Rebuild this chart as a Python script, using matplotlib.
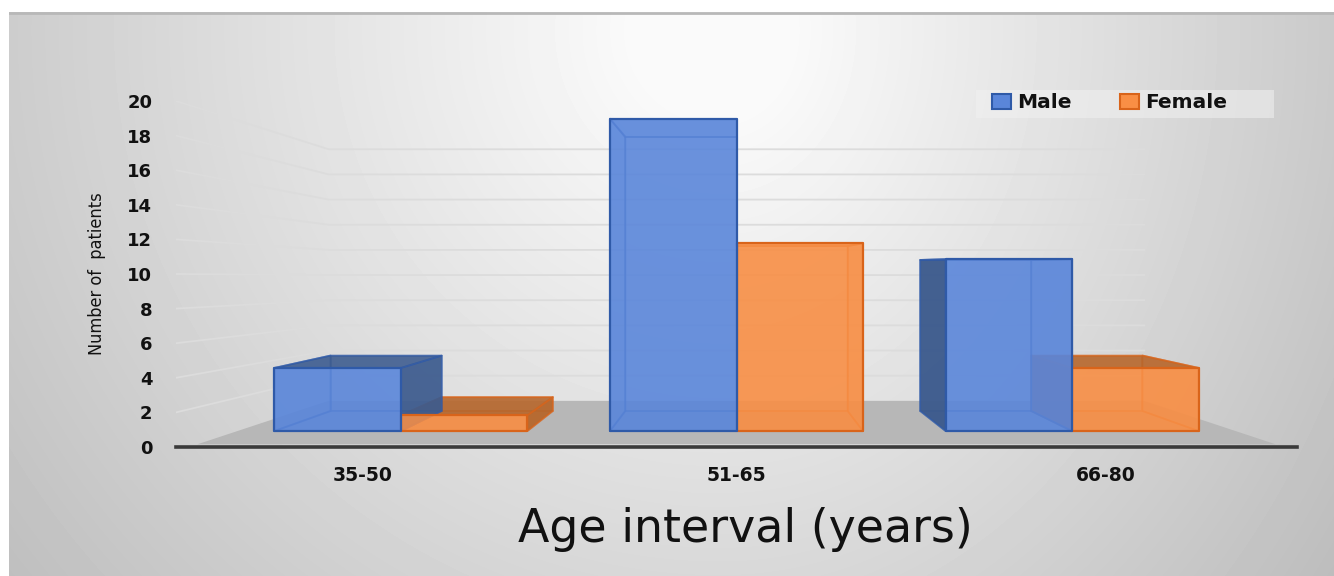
#!/usr/bin/env python
"""Male / female patients per age interval, drawn as a 3-D style clustered bar chart."""
import matplotlib

matplotlib.use("Agg")
import matplotlib.pyplot as plt
import numpy as np
from matplotlib.patches import Patch, Polygon, Rectangle

CATEGORIES = ["35-50", "51-65", "66-80"]
MALE = [4, 19.8, 10.9]
FEMALE = [1, 11.9, 4]
YTICKS = list(range(0, 21, 2))

W, H = 1334, 576
# perspective: s=1 is the axis plane, smaller s goes into the picture
Y_VANISH = 10.46
X_VANISH = 1.0
X_SHRINK = 0.985
S_FRONT = 0.912
S_BACK = 0.801
S_WALL = 0.745
S_FLOOR = 0.985
WALL_SQUASH = 0.976  # back wall gridlines sit a bit closer together
BAR_W = 0.377

BLUE = {"front": "#5a86da", "edge": "#2f5aa8", "outer": "#3c5a8c", "inner": "#4f7fd6"}
ORANGE = {"front": "#f98f45", "edge": "#d9641a", "outer": "#b5652a", "inner": "#e87a30"}


def proj(x, v, s):
    return X_VANISH + s * (x - X_VANISH) * X_SHRINK, Y_VANISH + s * (v - Y_VANISH)


def face(ax, pts, fc, alpha, ec, z, lw=1.3):
    ax.add_patch(Polygon([proj(*p) for p in pts], closed=True, facecolor=matplotlib.colors.to_rgba(fc, alpha),
                         edgecolor=ec, lw=lw, zorder=z, joinstyle="round"))


def box_back(ax, x0, x1, v, c, z):
    """Back, floor and side faces, everything behind the front pane."""
    f, b = S_FRONT, S_BACK
    face(ax, [(x0, 0, b), (x1, 0, b), (x1, v, b), (x0, v, b)], c["inner"], 0.25, c["edge"] + "66", z)
    face(ax, [(x0, 0, f), (x1, 0, f), (x1, 0, b), (x0, 0, b)], c["inner"], 0.35, c["edge"] + "66", z)
    # side faces are dark when seen from outside, pale when seen through the front
    left_out = proj(x0, 0, f)[0] > X_VANISH + 1e-6
    right_out = proj(x1, 0, f)[0] < X_VANISH - 1e-6
    top_out = v < Y_VANISH
    if x0 != X_VANISH:
        lc, la = (c["outer"], 0.95) if left_out else (c["inner"], 0.35)
        face(ax, [(x0, 0, f), (x0, 0, b), (x0, v, b), (x0, v, f)], lc, la, c["edge"] + "aa", z)
    if x1 != X_VANISH:
        rc, ra = (c["outer"], 0.9) if right_out else (c["inner"], 0.35)
        face(ax, [(x1, 0, f), (x1, 0, b), (x1, v, b), (x1, v, f)], rc, ra, c["edge"] + "aa", z)
    tc, ta = (c["outer"], 0.85) if top_out else (c["inner"], 0.35)
    face(ax, [(x0, v, f), (x1, v, f), (x1, v, b), (x0, v, b)], tc, ta, c["edge"] + "aa", z)


def box_front(ax, x0, x1, v, c, z):
    f = S_FRONT
    face(ax, [(x0, 0, f), (x1, 0, f), (x1, v, f), (x0, v, f)], c["front"], 0.86, c["edge"], z, lw=1.6)


fig = plt.figure(figsize=(W / 100, H / 100), dpi=100, facecolor="white")

# page background: radial grey gradient inside the panel
bg = fig.add_axes([9 / W, 0, 1 - 9 / W, 1 - 12 / H])
bg.axis("off")
yy, xx = np.mgrid[12:H, 9:W]
r = np.hypot((xx - 720) / np.where(xx > 720, 680, 830), (yy - 30) / 820)
bg.imshow(np.clip(256 - 60 * r, 0, 250), cmap="gray", vmin=0, vmax=255, aspect="auto")
bg.axhline(0, color="#b8b8b8", lw=2)
bg.add_patch(Rectangle((975 - 9, 89 - 12), 298, 28, facecolor="#f1f1f1", alpha=0.55, edgecolor="none"))

ax = fig.add_axes([176 / W, 1 - 447 / H, (1297 - 176) / W, (447 - 101) / H])
ax.patch.set_alpha(0)
ax.set_xlim(-0.5, 2.5)
ax.set_ylim(0, 20)
ax.set_xticks([0, 1, 1.987])
ax.set_xticklabels(CATEGORIES)
ax.set_yticks(YTICKS)
for s in ["top", "left", "right"]:
    ax.spines[s].set_visible(False)
ax.spines["bottom"].set_color("#3a3a3a")
ax.spines["bottom"].set_linewidth(2.6)
ax.tick_params(axis="both", length=0, labelcolor="#111111")
ax.tick_params(axis="y", pad=17, labelsize=13)
ax.tick_params(axis="x", pad=14, labelsize=13.5)
for lab in ax.get_xticklabels() + ax.get_yticklabels():
    lab.set_fontweight("bold")

# floor
fl = [proj(-0.487, 0, S_FLOOR), proj(2.487, 0, S_FLOOR), proj(2.487, 0, S_WALL), proj(-0.487, 0, S_WALL)]
ax.add_patch(Polygon(fl, closed=True, facecolor="#b7b7b7", edgecolor="none", zorder=1))

# gridlines: back wall plus the receding part on the left
for v in YTICKS[1:]:
    xb0, yb = proj(-0.487, v * WALL_SQUASH, S_WALL)
    xb1, _ = proj(2.487, v * WALL_SQUASH, S_WALL)
    ax.plot([-0.5, xb0, xb1], [v, yb, yb], color="#dcdcdc", lw=1.3, zorder=1)

for i in range(len(CATEGORIES)):
    box_back(ax, i, i + BAR_W, FEMALE[i], ORANGE, 2)
    box_back(ax, i - BAR_W, i, MALE[i], BLUE, 3)
for i in range(len(CATEGORIES)):
    box_front(ax, i, i + BAR_W, FEMALE[i], ORANGE, 4)
    box_front(ax, i - BAR_W, i, MALE[i], BLUE, 5)

leg = ax.legend(handles=[Patch(facecolor=BLUE["front"], edgecolor=BLUE["edge"], lw=1.5, label="Male"),
                         Patch(facecolor=ORANGE["front"], edgecolor=ORANGE["edge"], lw=1.5, label="Female")],
                ncol=2, loc="center left", bbox_to_anchor=((992 - 176) / 1121, (447 - 103) / 346), frameon=False,
                handlelength=0.95, handleheight=0.7, handletextpad=0.3, columnspacing=2.4, borderpad=0,
                borderaxespad=0, prop={"weight": "bold", "size": 14.5})
for t in leg.get_texts():
    t.set_color("#111111")

fig.text(745 / W, 1 - 530 / H, "Age interval (years)", ha="center", va="center", fontsize=33,
         family="DejaVu Sans", color="#111111")
fig.text(97 / W, 1 - 274 / H, "Number of  patients", rotation=90, ha="center", va="center", fontsize=13,
         family="DejaVu Sans", stretch="condensed", color="#111111")

fig.savefig("out.png", dpi=100)
